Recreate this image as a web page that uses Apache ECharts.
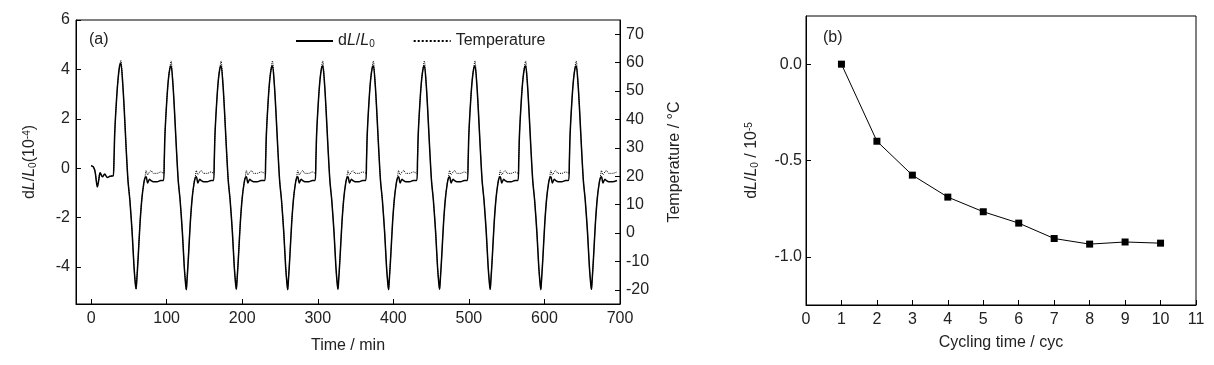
<!DOCTYPE html>
<html>
<head>
<meta charset="utf-8">
<script src="https://cdn.jsdelivr.net/npm/echarts@6/dist/echarts.min.js"></script>
<style>html,body{margin:0;padding:0;background:#fff;}#c{width:1214px;height:365px;}</style>
</head>
<body>
<div id="c"></div>
<script>
// ---- Panel (a): time series ----
const timeMin = [
  0, 3, 5.3, 8.3, 10, 12, 15, 18, 21.5, 25, 28,
  29.3, 30.3, 31.3, 33.8, 35.8, 37.8, 39.3, 41.8, 43.8, 46.3, 48.8, 51.3, 54.3, 56.8, 58.6, 59.5, 60.3, 62.3, 64.8, 67.3, 69.8, 71.3, 72.8, 74.8, 77.3, 79.3, 82.3, 87.3, 92.3,
  95.8, 96.8, 97.8, 100.3, 102.3, 104.3, 105.8, 108.3, 110.3, 112.8, 115.3, 117.8, 120.8, 123.3, 125.1, 126, 126.8, 128.8, 131.3, 133.8, 136.3, 137.8, 139.3, 141.3, 143.8, 145.8, 148.8, 153.8, 158.8,
  162, 163, 164, 166.5, 168.5, 170.5, 172, 174.5, 176.5, 179, 181.5, 184, 187, 189.5, 191.3, 192.2, 193, 195, 197.5, 200, 202.5, 204, 205.5, 207.5, 210, 212, 215, 220, 225,
  230, 231, 232, 234.5, 236.5, 238.5, 240, 242.5, 244.5, 247, 249.5, 252, 255, 257.5, 259.3, 260.2, 261, 263, 265.5, 268, 270.5, 272, 273.5, 275.5, 278, 280, 283, 288, 293,
  296.5, 297.5, 298.5, 301, 303, 305, 306.5, 309, 311, 313.5, 316, 318.5, 321.5, 324, 325.8, 326.7, 327.5, 329.5, 332, 334.5, 337, 338.5, 340, 342, 344.5, 346.5, 349.5, 354.5, 359.5,
  363.5, 364.5, 365.5, 368, 370, 372, 373.5, 376, 378, 380.5, 383, 385.5, 388.5, 391, 392.8, 393.7, 394.5, 396.5, 399, 401.5, 404, 405.5, 407, 409, 411.5, 413.5, 416.5, 421.5, 426.5,
  431, 432, 433, 435.5, 437.5, 439.5, 441, 443.5, 445.5, 448, 450.5, 453, 456, 458.5, 460.3, 461.2, 462, 464, 466.5, 469, 471.5, 473, 474.5, 476.5, 479, 481, 484, 489, 494,
  498, 499, 500, 502.5, 504.5, 506.5, 508, 510.5, 512.5, 515, 517.5, 520, 523, 525.5, 527.3, 528.2, 529, 531, 533.5, 536, 538.5, 540, 541.5, 543.5, 546, 548, 551, 556, 561,
  565, 566, 567, 569.5, 571.5, 573.5, 575, 577.5, 579.5, 582, 584.5, 587, 590, 592.5, 594.3, 595.2, 596, 598, 600.5, 603, 605.5, 607, 608.5, 610.5, 613, 615, 618, 623, 628,
  632, 633, 634, 636.5, 638.5, 640.5, 642, 644.5, 646.5, 649, 651.5, 654, 657, 659.5, 661.3, 662.2, 663, 665, 667.5, 670, 672.5, 674, 675.5, 677.5, 680, 682, 685, 690, 696
];
const dLValues = [
  0.1, 0.05, -0.15, -0.76, -0.5, -0.19, -0.35, -0.24, -0.38, -0.33, -0.32,
  -0.32, 0.35, 1.45, 2.85, 3.65, 4.15, 4.25, 3.45, 2.4, 0.85, -0.5, -1.3, -2.6, -4.0, -4.7, -4.88, -4.6, -3.6, -2.2, -1.2, -0.6, -0.4, -0.35, -0.6, -0.45, -0.5, -0.55, -0.55, -0.5,
  -0.5, 0.3, 1.4, 2.8, 3.6, 4.05, 4.15, 3.4, 2.35, 0.85, -0.5, -1.3, -2.6, -4.0, -4.7, -4.92, -4.6, -3.6, -2.2, -1.2, -0.6, -0.4, -0.35, -0.6, -0.45, -0.5, -0.55, -0.55, -0.5,
  -0.5, 0.3, 1.4, 2.8, 3.6, 4.05, 4.15, 3.4, 2.35, 0.85, -0.5, -1.3, -2.6, -4.0, -4.7, -4.9, -4.6, -3.6, -2.2, -1.2, -0.6, -0.4, -0.35, -0.6, -0.45, -0.5, -0.55, -0.55, -0.5,
  -0.5, 0.3, 1.4, 2.8, 3.6, 4.05, 4.15, 3.4, 2.35, 0.85, -0.5, -1.3, -2.6, -4.0, -4.7, -4.92, -4.6, -3.6, -2.2, -1.2, -0.6, -0.4, -0.35, -0.6, -0.45, -0.5, -0.55, -0.55, -0.5,
  -0.5, 0.3, 1.4, 2.8, 3.6, 4.05, 4.15, 3.4, 2.35, 0.85, -0.5, -1.3, -2.6, -4.0, -4.7, -4.9, -4.6, -3.6, -2.2, -1.2, -0.6, -0.4, -0.35, -0.6, -0.45, -0.5, -0.55, -0.55, -0.5,
  -0.5, 0.3, 1.4, 2.8, 3.6, 4.05, 4.15, 3.4, 2.35, 0.85, -0.5, -1.3, -2.6, -4.0, -4.7, -4.92, -4.6, -3.6, -2.2, -1.2, -0.6, -0.4, -0.35, -0.6, -0.45, -0.5, -0.55, -0.55, -0.5,
  -0.5, 0.3, 1.4, 2.8, 3.6, 4.05, 4.15, 3.4, 2.35, 0.85, -0.5, -1.3, -2.6, -4.0, -4.7, -4.9, -4.6, -3.6, -2.2, -1.2, -0.6, -0.4, -0.35, -0.6, -0.45, -0.5, -0.55, -0.55, -0.5,
  -0.5, 0.3, 1.4, 2.8, 3.6, 4.05, 4.15, 3.4, 2.35, 0.85, -0.5, -1.3, -2.6, -4.0, -4.7, -4.9, -4.6, -3.6, -2.2, -1.2, -0.6, -0.4, -0.35, -0.6, -0.45, -0.5, -0.55, -0.55, -0.5,
  -0.5, 0.3, 1.4, 2.8, 3.6, 4.05, 4.15, 3.4, 2.35, 0.85, -0.5, -1.3, -2.6, -4.0, -4.7, -4.92, -4.6, -3.6, -2.2, -1.2, -0.6, -0.4, -0.35, -0.6, -0.45, -0.5, -0.55, -0.55, -0.5,
  -0.5, 0.3, 1.4, 2.8, 3.6, 4.05, 4.15, 3.4, 2.35, 0.85, -0.5, -1.3, -2.6, -4.0, -4.7, -4.9, -4.6, -3.6, -2.2, -1.2, -0.6, -0.4, -0.35, -0.6, -0.45, -0.5, -0.55, -0.55, -0.5
];
const tempValues = [
  23.8, 23.3, 21.6, 16.3, 18.6, 21.3, 19.9, 20.8, 19.6, 20.0, 20.1,
  20.1, 25.9, 35.5, 47.6, 54.5, 59.0, 60.8, 52.9, 43.7, 30.3, 18.6, 11.6, 0.3, -11.8, -17.9, -19.8, -17, -8.3, 3.8, 12.5, 17.7, 19.6, 22, 20.5, 21.5, 22, 21, 21, 21.5,
  21, 25.5, 35.1, 47.2, 54.1, 58.4, 60.6, 52.4, 43.3, 30.3, 18.6, 11.6, 0.3, -11.8, -17.9, -20, -17, -8.3, 3.8, 12.5, 17.7, 19.6, 22, 20.5, 21.5, 22, 21, 21, 21.5,
  21, 25.5, 35.1, 47.2, 54.1, 58.4, 60.6, 52.4, 43.3, 30.3, 18.6, 11.6, 0.3, -11.8, -17.9, -19.8, -17, -8.3, 3.8, 12.5, 17.7, 19.6, 22, 20.5, 21.5, 22, 21, 21, 21.5,
  21, 25.5, 35.1, 47.2, 54.1, 58.4, 60.6, 52.4, 43.3, 30.3, 18.6, 11.6, 0.3, -11.8, -17.9, -20, -17, -8.3, 3.8, 12.5, 17.7, 19.6, 22, 20.5, 21.5, 22, 21, 21, 21.5,
  21, 25.5, 35.1, 47.2, 54.1, 58.4, 60.6, 52.4, 43.3, 30.3, 18.6, 11.6, 0.3, -11.8, -17.9, -19.8, -17, -8.3, 3.8, 12.5, 17.7, 19.6, 22, 20.5, 21.5, 22, 21, 21, 21.5,
  21, 25.5, 35.1, 47.2, 54.1, 58.4, 60.6, 52.4, 43.3, 30.3, 18.6, 11.6, 0.3, -11.8, -17.9, -20, -17, -8.3, 3.8, 12.5, 17.7, 19.6, 22, 20.5, 21.5, 22, 21, 21, 21.5,
  21, 25.5, 35.1, 47.2, 54.1, 58.4, 60.6, 52.4, 43.3, 30.3, 18.6, 11.6, 0.3, -11.8, -17.9, -19.8, -17, -8.3, 3.8, 12.5, 17.7, 19.6, 22, 20.5, 21.5, 22, 21, 21, 21.5,
  21, 25.5, 35.1, 47.2, 54.1, 58.4, 60.6, 52.4, 43.3, 30.3, 18.6, 11.6, 0.3, -11.8, -17.9, -20, -17, -8.3, 3.8, 12.5, 17.7, 19.6, 22, 20.5, 21.5, 22, 21, 21, 21.5,
  21, 25.5, 35.1, 47.2, 54.1, 58.4, 60.6, 52.4, 43.3, 30.3, 18.6, 11.6, 0.3, -11.8, -17.9, -19.8, -17, -8.3, 3.8, 12.5, 17.7, 19.6, 22, 20.5, 21.5, 22, 21, 21, 21.5,
  21, 25.5, 35.1, 47.2, 54.1, 58.4, 60.6, 52.4, 43.3, 30.3, 18.6, 11.6, 0.3, -11.8, -17.9, -20, -17, -8.3, 3.8, 12.5, 17.7, 19.6, 22, 20.5, 21.5, 22, 21, 21, 21.5
];
const timeTicks = [0, 100, 200, 300, 400, 500, 600, 700];
const dLTicks = [-4, -2, 0, 2, 4, 6];
const tempTicks = [-20, -10, 0, 10, 20, 30, 40, 50, 60, 70];

// ---- Panel (b): cycling ----
const cycles = [1, 2, 3, 4, 5, 6, 7, 8, 9, 10];
const dLCycle = [0, -0.40, -0.576, -0.69, -0.766, -0.825, -0.905, -0.934, -0.923, -0.929];
const cycleDLTicks = [-1.0, -0.5, 0.0];

const FONT = "'Liberation Sans', Arial, sans-serif";
const TXT = '#222';
const richStyles = {
  i: {fontStyle: 'italic', fontSize: 16, fontFamily: FONT, color: TXT},
  s: {fontSize: 10, fontFamily: FONT, color: TXT, verticalAlign: 'bottom', lineHeight: 9},
  p: {fontSize: 10, fontFamily: FONT, color: TXT, verticalAlign: 'top', lineHeight: 9}
};
const axLine = {show: true, onZero: false, lineStyle: {color: '#000', width: 1}};
const axTick = (vals) => ({show: true, inside: true, length: 5, lineStyle: {color: '#000'}, customValues: vals});

const seriesA1 = timeMin.map((t, k) => [t, dLValues[k]]);
const seriesA2 = timeMin.map((t, k) => [t, tempValues[k]]);
const seriesB = cycles.map((c, k) => [c, dLCycle[k]]);

const chart = echarts.init(document.getElementById('c'), null, {renderer: 'canvas'});
chart.setOption({
  animation: false,
  backgroundColor: '#fff',
  textStyle: {fontFamily: FONT, color: TXT},
  title: [
    {text: '(a)', left: 84, top: 27, textStyle: {fontSize: 16, fontWeight: 'normal', color: TXT, fontFamily: FONT}},
    {text: '(b)', left: 818, top: 25, textStyle: {fontSize: 16, fontWeight: 'normal', color: TXT, fontFamily: FONT}}
  ],
  legend: {
    left: 290, top: 28, itemWidth: 37, itemHeight: 14, itemGap: 38,
    data: ['dL/L0', 'Temperature'],
    itemStyle: {opacity: 0},
    formatter: (n) => n === 'dL/L0' ? 'd{i|L}/{i|L}{s|0}' : n,
    textStyle: {fontSize: 16, color: TXT, fontFamily: FONT, rich: richStyles}
  },
  grid: [
    {left: 76, top: 20, right: 594, bottom: 61, show: true, borderColor: '#000', borderWidth: 1},
    {left: 806, top: 16, right: 18, bottom: 60, show: true, borderColor: '#000', borderWidth: 1}
  ],
  xAxis: [
    {type: 'value', gridIndex: 0, min: -20, max: 700,
     name: 'Time / min', nameLocation: 'middle', nameGap: 34,
     nameTextStyle: {fontSize: 16, color: TXT, fontFamily: FONT},
     axisLine: axLine, axisTick: axTick(timeTicks),
     axisLabel: {customValues: timeTicks, fontSize: 16, color: TXT, margin: 7, fontFamily: FONT},
     splitLine: {show: false}},
    {type: 'value', gridIndex: 1, min: 0, max: 11, interval: 1,
     name: 'Cycling time / cyc', nameLocation: 'middle', nameGap: 30,
     nameTextStyle: {fontSize: 16, color: TXT, fontFamily: FONT},
     axisLine: axLine, axisTick: {show: true, inside: true, length: 5, lineStyle: {color: '#000'}},
     axisLabel: {fontSize: 16, color: TXT, margin: 7, fontFamily: FONT, showMaxLabel: true, showMinLabel: true},
     splitLine: {show: false}}
  ],
  yAxis: [
    {type: 'value', gridIndex: 0, min: -5.5, max: 6,
     name: 'd{i|L}/{i|L}{s|0}(10{p|-4})', nameLocation: 'middle', nameGap: 38, nameRotate: 90,
     nameTextStyle: {fontSize: 16, color: TXT, fontFamily: FONT, rich: richStyles},
     axisLine: axLine, axisTick: axTick(dLTicks),
     axisLabel: {customValues: dLTicks, fontSize: 16, color: TXT, margin: 6, fontFamily: FONT},
     splitLine: {show: false}},
    {type: 'value', gridIndex: 0, position: 'right', min: -25, max: 75,
     name: 'Temperature / °C', nameLocation: 'middle', nameGap: 47, nameRotate: 90,
     nameTextStyle: {fontSize: 16, color: TXT, fontFamily: FONT},
     axisLine: axLine, axisTick: axTick(tempTicks),
     axisLabel: {customValues: tempTicks, fontSize: 16, color: TXT, margin: 6, fontFamily: FONT},
     splitLine: {show: false}},
    {type: 'value', gridIndex: 1, min: -1.25, max: 0.25,
     name: 'd{i|L}/{i|L}{s|0} / 10{p|-5}', nameLocation: 'middle', nameGap: 46, nameRotate: 90,
     nameTextStyle: {fontSize: 16, color: TXT, fontFamily: FONT, rich: richStyles},
     axisLine: axLine, axisTick: axTick(cycleDLTicks),
     axisLabel: {customValues: cycleDLTicks, fontSize: 16, color: TXT, margin: 4, fontFamily: FONT,
                 formatter: (v) => (Math.abs(v) < 1e-9 ? 0 : v).toFixed(1)},
     splitLine: {show: false}}
  ],
  series: [
    {name: 'Temperature', type: 'line', xAxisIndex: 0, yAxisIndex: 1, data: seriesA2,
     showSymbol: false, symbol: 'none', smooth: 0.3,
     lineStyle: {color: '#000', width: 1, type: 'dotted'}, itemStyle: {color: '#000'}},
    {name: 'dL/L0', type: 'line', xAxisIndex: 0, yAxisIndex: 0, data: seriesA1,
     showSymbol: false, symbol: 'none', smooth: 0.3,
     lineStyle: {color: '#000', width: 1.5}, itemStyle: {color: '#000'}},
    {name: 'cyc', type: 'line', xAxisIndex: 1, yAxisIndex: 2, data: seriesB,
     symbol: 'rect', symbolSize: 7,
     lineStyle: {color: '#000', width: 1}, itemStyle: {color: '#000'}}
  ]
});
</script>
</body>
</html>
